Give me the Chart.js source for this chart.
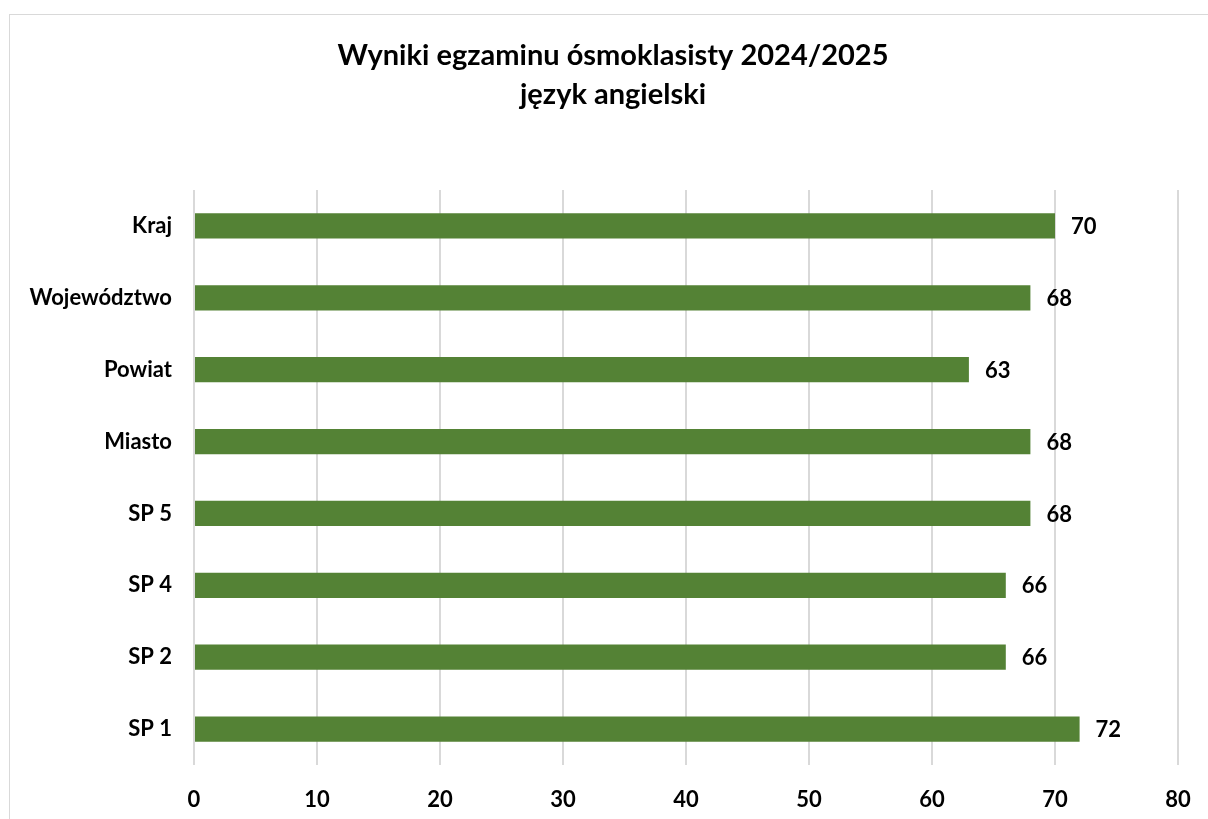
<!DOCTYPE html>
<html>
<head>
<meta charset="utf-8">
<script src="https://cdn.jsdelivr.net/npm/chart.js@4.4.0/dist/chart.umd.min.js"></script>
<style>
html,body{margin:0;padding:0;background:#fff;overflow:hidden;}
#frame{position:absolute;left:9px;top:14px;width:1220px;height:830px;border:1px solid #d9d9d9;box-sizing:border-box;}
#wrap{position:absolute;left:0;top:0;width:1208px;height:819px;}
</style>
</head>
<body>
<div id="frame"></div>
<div id="wrap"><canvas id="c" width="1208" height="819"></canvas></div>
<script>
const titleLines = ['Wyniki egzaminu ósmoklasisty 2024/2025', 'język angielski'];
const categories = ['Kraj', 'Województwo', 'Powiat', 'Miasto', 'SP 5', 'SP 4', 'SP 2', 'SP 1'];
const values = [70, 68, 63, 68, 68, 66, 66, 72];
const xMin = 0, xMax = 80, xStep = 10;

const FONT = 'Lato, "Open Sans", sans-serif';

const valueLabels = {
  id: 'valueLabels',
  afterDatasetsDraw(chart) {
    const ctx = chart.ctx;
    const meta = chart.getDatasetMeta(0);
    ctx.save();
    ctx.font = 'bold 22px ' + FONT;
    ctx.fillStyle = '#000';
    ctx.textAlign = 'left';
    ctx.textBaseline = 'middle';
    meta.data.forEach((bar, i) => {
      ctx.fillText(String(values[i]), bar.x + 16, bar.y + 1);
    });
    ctx.restore();
  }
};

const titleShift = {
  id: 'titleShift',
  afterLayout(chart) {
    if (chart.titleBlock) chart.titleBlock.left = 48;
  }
};

new Chart(document.getElementById('c'), {
  type: 'bar',
  data: {
    labels: categories,
    datasets: [{
      data: values,
      backgroundColor: '#548235',
      borderWidth: 0,
      barPercentage: 0.35,
      categoryPercentage: 1
    }]
  },
  options: {
    indexAxis: 'y',
    responsive: false,
    animation: false,
    layout: { padding: { left: 0, right: 30, top: 0, bottom: 0 } },
    plugins: {
      legend: { display: false },
      tooltip: { enabled: false },
      title: {
        display: true,
        text: titleLines,
        color: '#000',
        font: { family: FONT, size: 29, weight: 'bold', lineHeight: 1.345 },
        padding: { top: 36, bottom: 76 }
      }
    },
    scales: {
      x: {
        min: xMin, max: xMax,
        ticks: { stepSize: xStep, color: '#000', font: { family: FONT, size: 22, weight: 'bold' }, padding: 22 },
        grid: { color: '#d9d9d9', lineWidth: 2, drawTicks: false },
        border: { display: false },
        afterFit(scale) { scale.height = 54; scale.paddingLeft = 0; scale.paddingRight = 0; }
      },
      y: {
        ticks: { color: '#000', font: { family: FONT, size: 22, weight: 'bold' }, padding: 22 },
        grid: { display: false, drawTicks: false },
        border: { display: false },
        afterFit(scale) { scale.width = 194; }
      }
    }
  },
  plugins: [valueLabels, titleShift]
});
</script>
</body>
</html>
